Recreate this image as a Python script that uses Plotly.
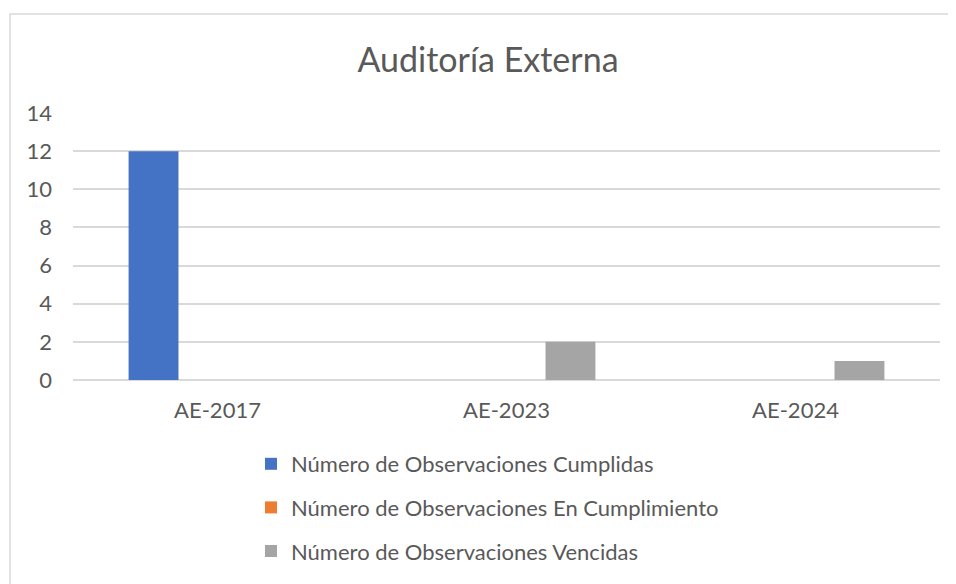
"""
Auditoría Externa - clustered bar chart (Excel look)
"""

import plotly.graph_objects as go

# Data
categories = ["AE-2017", "AE-2023", "AE-2024"]
cumplidas = [12, 0, 0]
en_cumplimiento = [0, 0, 0]
vencidas = [0, 2, 1]

series_names = [
    "Número de Observaciones Cumplidas",
    "Número de Observaciones En Cumplimiento",
    "Número de Observaciones Vencidas",
]
y_ticks = [0, 2, 4, 6, 8, 10, 12, 14]

# Layout (pixels). The page body has an 8px margin, so the figure is
# shrunk by that amount and every reference position is shifted by it.
OFF = 8
W, H = 956 - OFF, 584 - OFF
ML, MT = 73 - OFF, 113 - OFF
MR = W - (940 - OFF)
MB = H - (380 - OFF)
PW = W - ML - MR
PH = H - MT - MB

FONT = "Lato"
TEXT_COLOR = "#595959"
GRID_COLOR = "#d9d9d9"
COLORS = ["#4472C4", "#ED7D31", "#A5A5A5"]


def px_x(px):
    # page pixel -> paper x
    return (px - OFF - ML) / PW


def px_y(py):
    # page pixel -> paper y
    return 1 - (py - OFF - MT) / PH


fig = go.Figure()

for name, values, color in zip(series_names, [cumplidas, en_cumplimiento, vencidas], COLORS):
    fig.add_trace(go.Bar(
        x=categories,
        y=values,
        name=name,
        marker=dict(color=color, line=dict(width=0)),
        legendgroup=name,
    ))

fig.update_layout(
    width=W,
    height=H,
    margin=dict(l=ML, r=MR, t=MT, b=MB, pad=0),
    paper_bgcolor="white",
    plot_bgcolor="white",
    barmode="group",
    bargap=0.336,
    bargroupgap=0.22,
    font=dict(family=FONT, size=22, color=TEXT_COLOR),
    title=dict(
        text="Auditoría Externa",
        xref="container",
        yref="container",
        x=(488 - OFF) / W,
        xanchor="center",
        y=1 - (60 - OFF) / H,
        yanchor="middle",
        font=dict(family=FONT, size=34, color=TEXT_COLOR),
    ),
    showlegend=True,
    legend=dict(
        orientation="v",
        x=px_x(251),
        xanchor="left",
        y=px_y(443),
        yanchor="top",
        tracegroupgap=12,
        font=dict(family=FONT, size=22, color=TEXT_COLOR),
        bgcolor="rgba(0,0,0,0)",
    ),
    xaxis=dict(
        showgrid=False,
        showline=False,
        ticks="",
        ticklabelstandoff=15,
        tickfont=dict(family=FONT, size=22, color=TEXT_COLOR),
    ),
    yaxis=dict(
        range=[0, 14],
        tickvals=y_ticks,
        showgrid=True,
        gridcolor=GRID_COLOR,
        gridwidth=1.5,
        zeroline=True,
        zerolinecolor=GRID_COLOR,
        zerolinewidth=1.5,
        showline=False,
        ticks="",
        ticklabelstandoff=20,
        tickfont=dict(family=FONT, size=22, color=TEXT_COLOR),
    ),
    shapes=[
        # chart area border (only left and top visible in the crop)
        dict(
            type="rect",
            xref="paper", yref="paper",
            x0=px_x(10), x1=px_x(990),
            y0=px_y(620), y1=px_y(14),
            line=dict(color=GRID_COLOR, width=1.5),
            fillcolor="rgba(0,0,0,0)",
            layer="below",
        )
    ],
)

fig.write_html("out.html")
